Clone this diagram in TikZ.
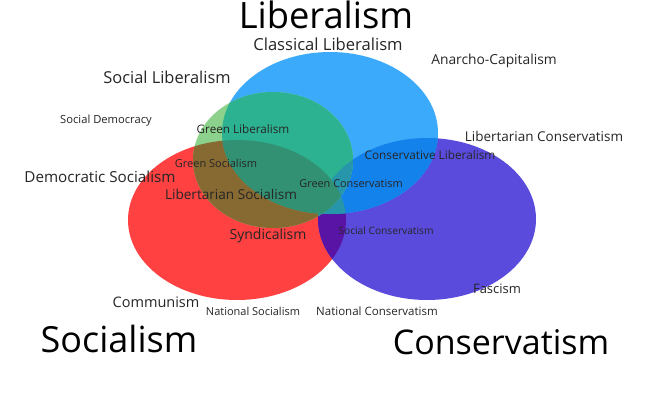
\documentclass[tikz,border=0pt]{standalone}
\usepackage{fontspec}
\setmainfont{Open Sans}
\usepackage{xcolor}
\usetikzlibrary{positioning}

\definecolor{socred}{RGB}{255,65,65}
\definecolor{libblue}{RGB}{60,170,250}
\definecolor{conpurple}{RGB}{90,75,220}
\definecolor{greenpale}{RGB}{140,210,140}
\definecolor{greenteal}{RGB}{45,178,145}
\definecolor{greenbrown}{RGB}{135,105,50}
\definecolor{greendark}{RGB}{50,145,115}
\definecolor{deepblue}{RGB}{20,130,235}
\definecolor{deepviolet}{RGB}{90,20,165}
\definecolor{mixteal}{RGB}{40,150,170}

% the four blocs, in pixel coordinates
\def\soc{(237,220) ellipse [x radius=109pt, y radius=80pt]}
\def\lib{(330,133) ellipse [x radius=108pt, y radius=81pt]}
\def\con{(427,219) ellipse [x radius=109pt, y radius=81pt]}
\def\grn{(273,160) ellipse [x radius=80pt, y radius=68pt]}

\begin{document}
\begin{tikzpicture}[
    x=1pt, y=-1pt,
    bloc/.style={anchor=base, inner sep=0pt, text=black, font=\fontsize{#1}{#1}\selectfont},
    ideo/.style={anchor=base, inner sep=0pt, text=black!85, font=\fontsize{#1}{#1}\selectfont}
]
    \fill[white] (0,0) rectangle (650,400);
    \useasboundingbox (0,0) rectangle (650,400);

    % Ellipses
    \fill[socred] \soc;
    \fill[conpurple] \con;
    \fill[libblue] \lib;

    % Overlaps
    \begin{scope}
        \clip \soc;
        \fill[deepviolet] \con;
        \fill[greendark] \lib;
        \clip \con;
        \fill[mixteal] \lib;
    \end{scope}
    \begin{scope}
        \clip \lib;
        \fill[deepblue] \con;
        \clip \soc;
        \fill[mixteal] \con;
    \end{scope}

    % Green (on top)
    \fill[greenpale] \grn;
    \begin{scope}
        \clip \grn;
        \fill[greenbrown] \soc;
        \fill[greenteal] \lib;
        \fill[mixteal] \con;
        \clip \soc;
        \fill[greendark] \lib;
    \end{scope}

    % Nodes
    \node[bloc=36.3] (liberalism) at (326,28.5) {Liberalism};
    \node[ideo=16.6] (classical) at (328,50) {Classical Liberalism};
    \node[ideo=16.4] (socliberal) at (167,83) {Social Liberalism};
    \node[ideo=13.8] (anarcho) at (494,64) {Anarcho-Capitalism};
    \node[ideo=11.2] (socdem) at (106,123) {Social Democracy};
    \node[ideo=11.7] (greenlib) at (243,133) {Green Liberalism};
    \node[ideo=13.5] (libcon) at (544,141) {Libertarian Conservatism};
    \node[ideo=11.8] (conlib) at (430,159) {Conservative Liberalism};
    \node[ideo=11] (greensoc) at (216,167) {Green Socialism};
    \node[ideo=15.2] (demsoc) at (100,182) {Democratic Socialism};
    \node[ideo=10.9] (greencon) at (351,187) {Green Conservatism};
    \node[ideo=13.6] (libsoc) at (231,199) {Libertarian Socialism};
    \node[ideo=14] (syndic) at (268,239) {Syndicalism};
    \node[ideo=10.2] (soccon) at (386,234) {Social Conservatism};
    \node[ideo=13] (fascism) at (497,293) {Fascism};
    \node[ideo=14.5] (communism) at (156,307) {Communism};
    \node[ideo=11] (natsoc) at (253,315) {National Socialism};
    \node[ideo=11.5] (natcon) at (377,315) {National Conservatism};
    \node[bloc=36] (socialism) at (119,352) {Socialism};
    \node[bloc=34] (conservatism) at (501,354) {Conservatism};

\end{tikzpicture}
\end{document}
